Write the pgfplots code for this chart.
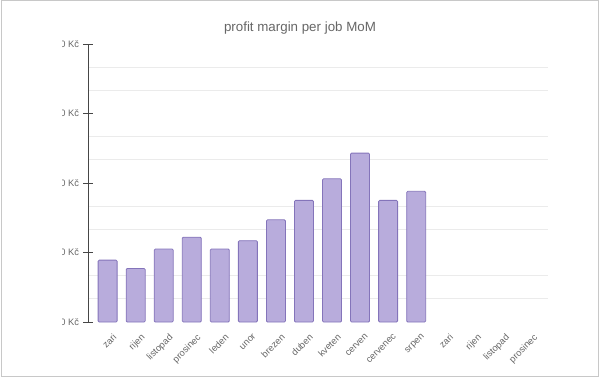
\documentclass[border=0pt]{standalone}
\usepackage{pgfplots}
\pgfplotsset{compat=1.18}
\usepackage{fontspec}
\setmainfont{Liberation Sans}
\definecolor{barfill}{RGB}{184,172,220}
\definecolor{barline}{RGB}{132,116,186}
\definecolor{txt}{RGB}{102,102,102}
\definecolor{axcol}{RGB}{70,70,70}
\definecolor{gridcol}{RGB}{235,235,235}
\definecolor{framecol}{RGB}{200,200,200}
\begin{document}
\begin{tikzpicture}[x=0.75pt,y=0.75pt]
\useasboundingbox (0,0) rectangle (600,379);
\begin{axis}[
  at={(66pt,42.75pt)}, anchor=south west,
  scale only axis, width=345pt, height=208.5pt,
  xmin=-0.7, xmax=15.7, ymin=0, ymax=4000,
  axis lines*=left,
  x axis line style={draw=none},
  y axis line style={-, draw=axcol, line width=0.75pt},
  xtick={0,...,15},
  xticklabels={zari,rijen,listopad,prosinec,leden,unor,brezen,duben,kveten,cerven,cervenec,srpen,zari,rijen,listopad,prosinec},
  x tick label style={rotate=45, anchor=north east, font=\fontsize{7}{8}\selectfont, text=txt, inner sep=1pt, xshift=3pt, yshift=-2pt},
  x tick style={draw=none},
  ytick={0,1000,2000,3000,4000},
  yticklabels={0 Kč,1 000 Kč,2 000 Kč,3 000 Kč,4 000 Kč},
  y tick label style={font=\fontsize{7}{8}\selectfont, text=txt, xshift=0.5pt},
  tick align=center,
  major tick length=7.5pt,
  y tick style={draw=axcol, line width=0.75pt},
  minor y tick num=2,
  minor tick length=0pt,
  yminorgrids=true,
  minor grid style={draw=gridcol, line width=0.6pt},
  ybar, bar width=14.25pt, bar shift=0pt,
]
\addplot[fill=barfill, draw=barline, line width=0.6pt, rounded corners=0.8pt] coordinates {
  (0,890) (1,770) (2,1050) (3,1220) (4,1050) (5,1170)
  (6,1470) (7,1750) (8,2060) (9,2430) (10,1750) (11,1880)
};
\end{axis}
\fill[white] (1.6,4) rectangle (62,377);
\draw[framecol, line width=0.75pt] (1,3) rectangle (598,378);
\node[font=\fontsize{10}{12}\selectfont, text=txt] at (300,351) {profit margin per job MoM};
\end{tikzpicture}
\end{document}
